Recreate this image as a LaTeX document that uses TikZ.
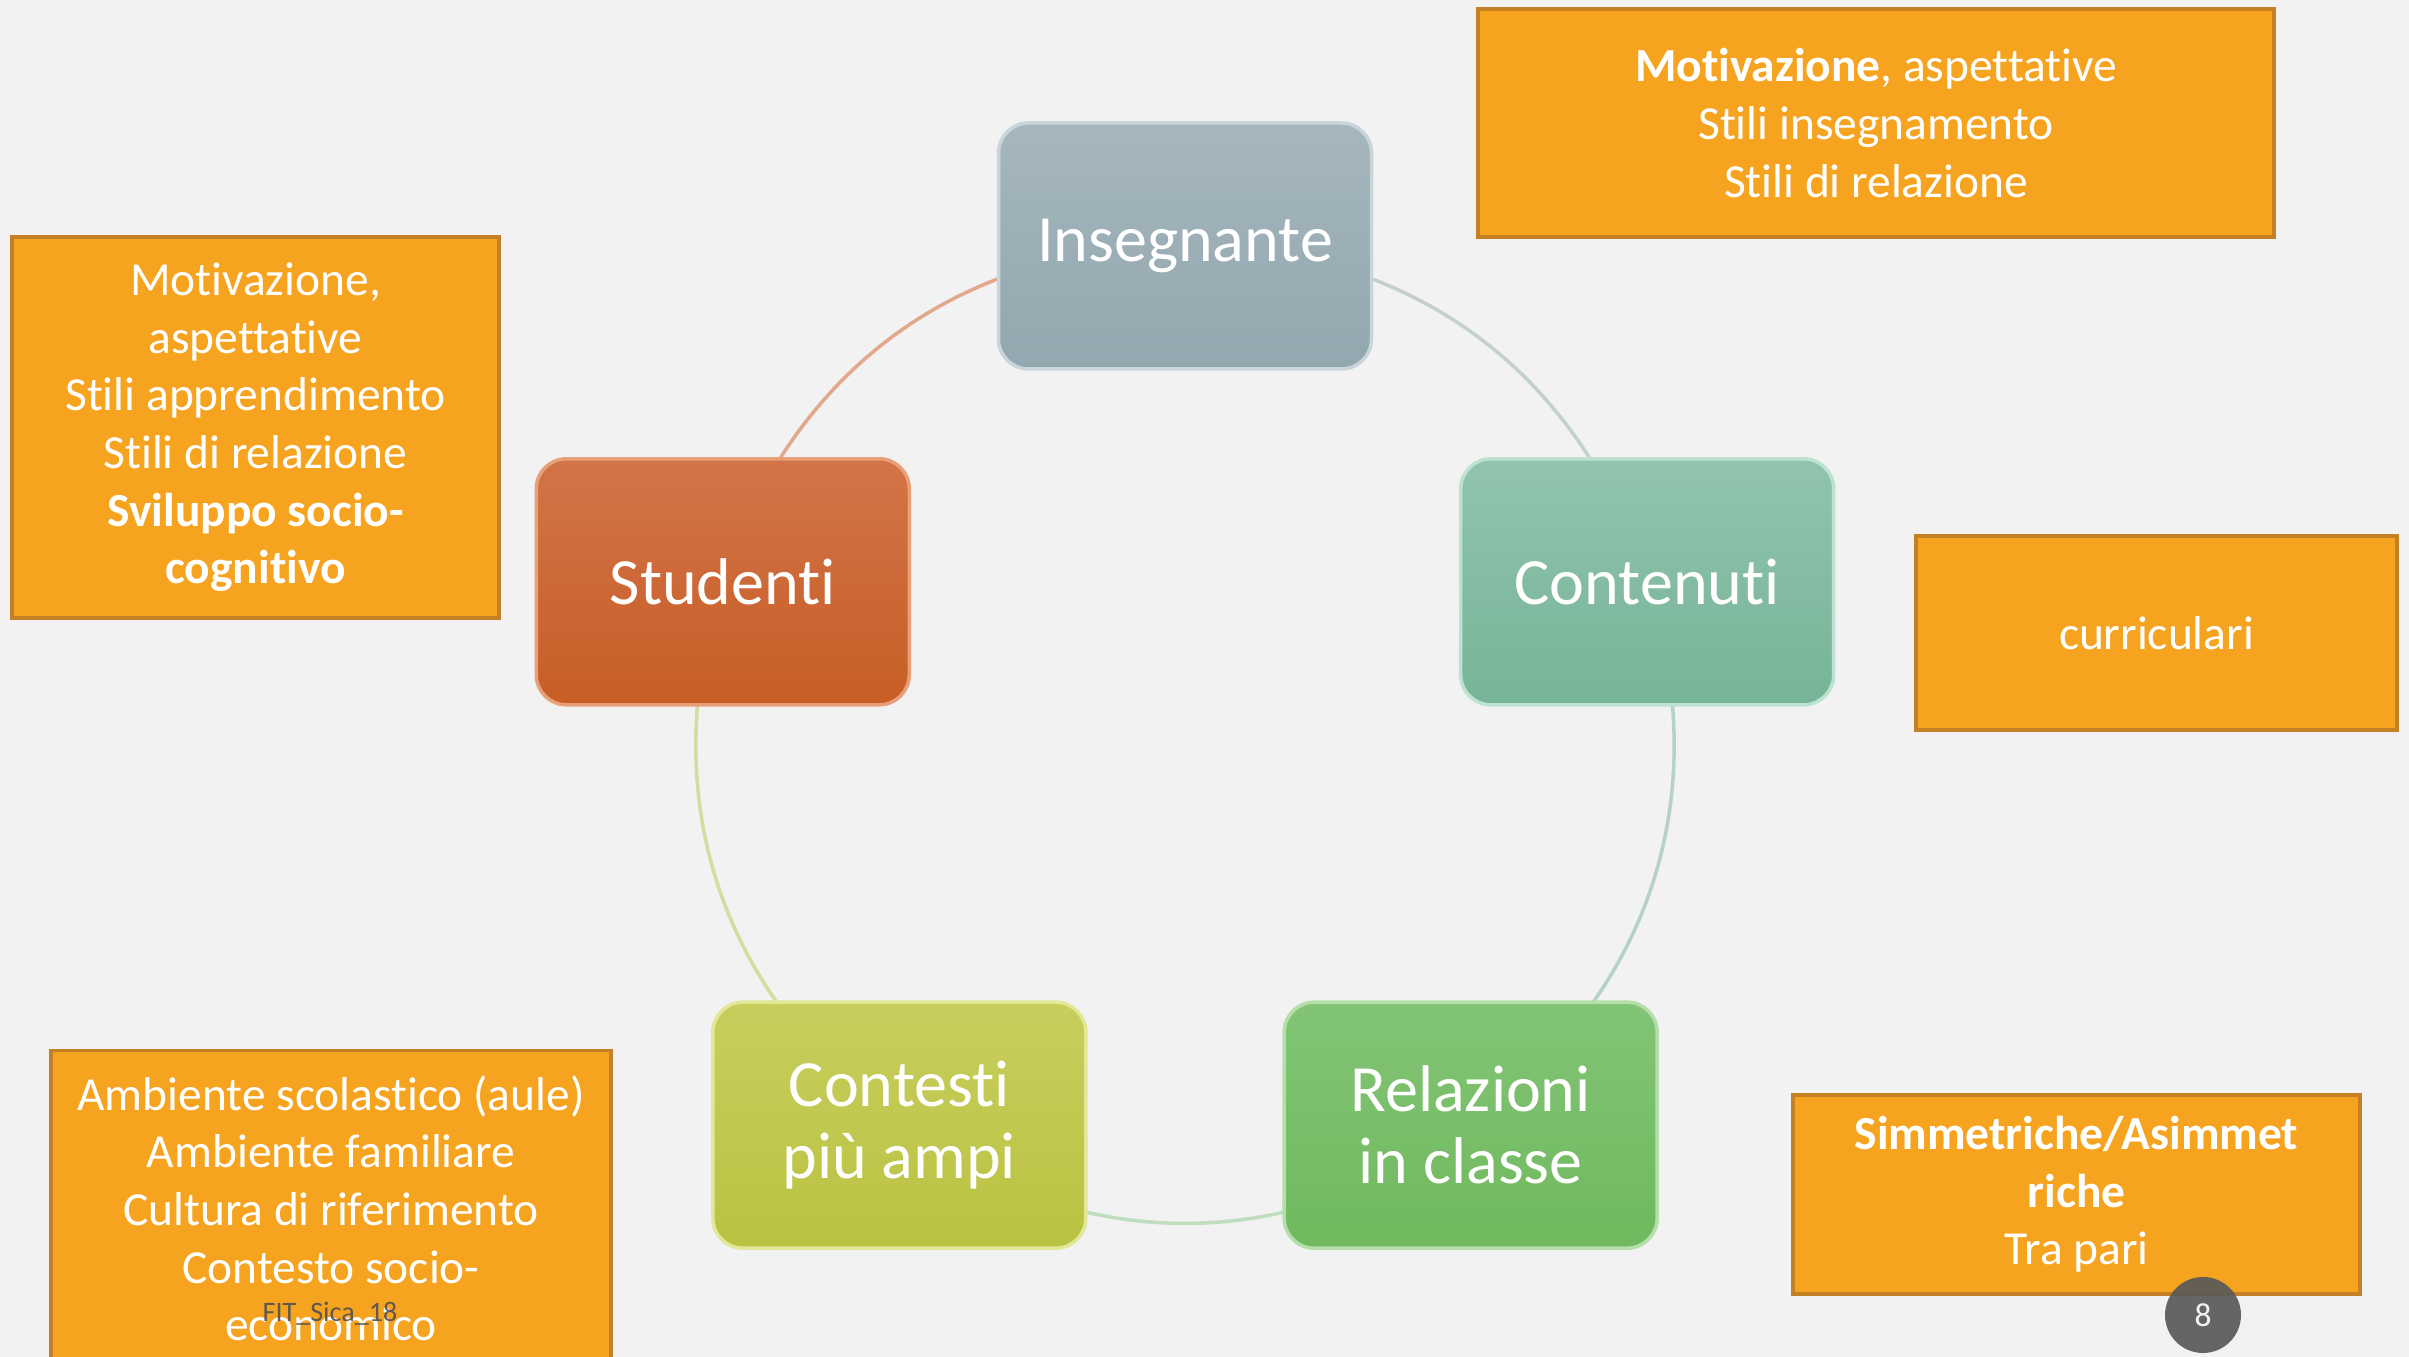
\documentclass[tikz,border=0pt]{standalone}
\usepackage{fontspec}
\setmainfont{Carlito}[Ligatures={NoCommon,NoContextual}]
\usetikzlibrary{backgrounds}

\definecolor{bgcol}{RGB}{242,242,242}
\definecolor{boxfill}{RGB}{246,164,32}
\definecolor{boxline}{RGB}{196,128,36}

\tikzset{
  comp/.style={rounded corners=0.3cm, minimum width=3.73cm, minimum height=2.46cm,
    align=center, text=white, line width=1pt,
    font=\fontsize{18.8pt}{20.5pt}\selectfont},
  infobox/.style={fill=boxfill, draw=boxline, line width=1pt, text=white, align=center,
    inner sep=0pt, font=\fontsize{13.5pt}{16.4pt}\selectfont},
  ring/.style={line width=1pt}
}

\begin{document}
\begin{tikzpicture}
\useasboundingbox (0,0) rectangle (24.09,13.57);
\def\ringr{4.86}
\coordinate (c) at (11.85,6.25);

\node[comp, top color={rgb,255:red,166;green,182;blue,189}, bottom color={rgb,255:red,146;green,167;blue,175}, draw={rgb,255:red,200;green,214;blue,219}]
  (ins) at ([shift={(90:\ringr)}]c) {Insegnante};
\node[comp, top color={rgb,255:red,145;green,196;blue,175}, bottom color={rgb,255:red,118;green,180;blue,151}, draw={rgb,255:red,190;green,226;blue,210}]
  (con) at ([shift={(18:\ringr)}]c) {Contenuti};
\node[comp, top color={rgb,255:red,130;green,196;blue,118}, bottom color={rgb,255:red,112;green,185;blue,94}, draw={rgb,255:red,180;green,222;blue,170}]
  (rel) at ([shift={(-54:\ringr)}]c) {Relazioni\\in classe};
\node[comp, top color={rgb,255:red,200;green,206;blue,92}, bottom color={rgb,255:red,186;green,194;blue,66}, draw={rgb,255:red,226;green,232;blue,150}]
  (ctx) at ([shift={(-126:\ringr)}]c) {Contesti\\più ampi};
\node[comp, top color={rgb,255:red,210;green,116;blue,72}, bottom color={rgb,255:red,200;green,94;blue,38}, draw={rgb,255:red,232;green,160;blue,120}]
  (stu) at ([shift={(162:\ringr)}]c) {Studenti};

\begin{scope}[on background layer]
\fill[bgcol] (0,0) rectangle (24.09,13.57);
\draw[ring, color={rgb,255:red,226;green,168;blue,140}] (stu.center) to[bend left=36] (ins.center);
\draw[ring, color={rgb,255:red,196;green,208;blue,208}] (ins.center) to[bend left=36] (con.center);
\draw[ring, color={rgb,255:red,182;green,210;blue,196}] (con.center) to[bend left=36] (rel.center);
\draw[ring, color={rgb,255:red,190;green,222;blue,190}] (rel.center) to[bend left=36] (ctx.center);
\draw[ring, color={rgb,255:red,214;green,220;blue,160}] (ctx.center) to[bend left=36] (stu.center);
\end{scope}

% riquadri
\node[infobox, minimum width=7.96cm, minimum height=2.28cm] (insbox) at (18.76,12.34)
  {\textbf{Motivazione}, aspettative\\Stili insegnamento\\Stili di relazione};
\node[infobox, minimum width=4.87cm, minimum height=3.81cm] (stubox) at (2.555,9.295)
  {Motivazione,\\aspettative\\Stili apprendimento\\Stili di relazione\\\textbf{Sviluppo socio-}\\\textbf{cognitivo}};
\node[infobox, minimum width=4.81cm, minimum height=1.94cm] (conbox) at (21.565,7.24)
  {curriculari};
\node[infobox, minimum width=5.60cm, minimum height=3.15cm, anchor=north] (ctxbox) at (3.31,3.08)
  {Ambiente scolastico (aule)\\Ambiente familiare\\Cultura di riferimento\\Contesto socio-\\economico};
\node[infobox, minimum width=5.67cm, minimum height=1.99cm] (relbox) at (20.765,1.625)
  {\textbf{Simmetriche/Asimmet}\\\textbf{riche}\\Tra pari};

\node[text={rgb,255:red,80;green,80;blue,80}, opacity=0.9, font=\fontsize{8pt}{9pt}\selectfont] (foot) at (3.30,0.43) {FIT\_Sica\_18};
\node[circle, fill={rgb,255:red,89;green,89;blue,89}, fill opacity=0.92, text=white, minimum size=0.76cm, inner sep=0pt,
  font=\fontsize{9.5pt}{10pt}\selectfont] (page) at (22.03,0.42) {8};
\end{tikzpicture}
\end{document}
